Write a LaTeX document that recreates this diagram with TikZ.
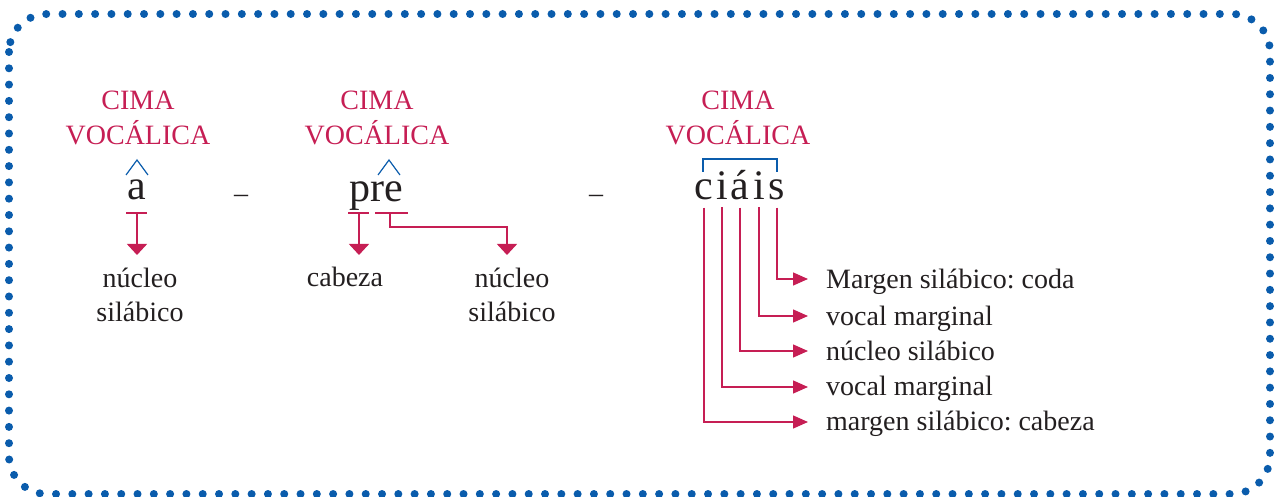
\documentclass[tikz,border=0pt]{standalone}
\usepackage{fontspec}
\setmainfont{Liberation Serif}
\usetikzlibrary{arrows.meta}
\definecolor{crim}{RGB}{198,30,84}
\definecolor{blu}{RGB}{10,92,172}
\definecolor{ink}{RGB}{35,31,32}
\frenchspacing
\begin{document}
\begin{tikzpicture}[x=1pt,y=-1pt,
  lbl/.style={font=\fontsize{28}{35}\selectfont, text=ink, inner sep=0pt},
  cima/.style={font=\fontsize{28}{35}\selectfont, text=crim, inner sep=0pt, anchor=base},
  big/.style={font=\fontsize{42}{42}\selectfont, text=ink, inner sep=0pt, anchor=base},
  conn/.style={crim, line width=1.4pt},
  darr/.style={conn, -{Triangle[width=20pt,length=11pt]}},
  rarr/.style={conn, -{Triangle[width=13pt,length=15pt]}},
  hat/.style={blu, line width=1.2pt},
  border/.style={blu, line width=8pt, line cap=round, dash pattern=on 0pt off 16.3pt, rounded corners=38pt},
]
\useasboundingbox (0,0) rectangle (1278,497);
\draw[border] (9,14) rectangle (1270,494);

% ---------- a ----------
\node[cima] (ca1) at (138,110) {CIMA};
\node[cima] (cb1) at (138,145) {VOCÁLICA};
\node[big] (a) at (137,200) {a};
\draw[hat] (126,175) -- (137,160) -- (148,175);
\coordinate (ta1) at (126,213);
\coordinate (ta2) at (147,213);
\coordinate (ta) at (137,213);
\coordinate (tipa) at (137,255);
\draw[conn] (ta1) -- (ta2);
\draw[darr] (ta) -- (tipa);
\node[lbl, anchor=base] (na1) at (140,288) {núcleo};
\node[lbl, anchor=base] (na2) at (140,322) {silábico};

\node[lbl, anchor=base] (d1) at (241,203) {–};

% ---------- pre ----------
\node[cima] (ca2) at (377,110) {CIMA};
\node[cima] (cb2) at (377,145) {VOCÁLICA};
\node[big, anchor=base west] (pre) at (349,202) {pre};
\draw[hat] (378,175) -- (389,160) -- (400,175);
\coordinate (tp1) at (348,213);
\coordinate (tp2) at (369,213);
\coordinate (tp) at (359,213);
\coordinate (tipp) at (359,255);
\draw[conn] (tp1) -- (tp2);
\draw[darr] (tp) -- (tipp);
\coordinate (tr1) at (375,213);
\coordinate (tr2) at (408,213);
\coordinate (tr) at (390,213);
\coordinate (tipr) at (507,255);
\draw[conn] (tr1) -- (tr2);
\draw[darr] (tr) -- (390,227) -| (tipr);
\node[lbl, anchor=base] (cab) at (345,287) {cabeza};
\node[lbl, anchor=base] (nb1) at (512,288) {núcleo};
\node[lbl, anchor=base] (nb2) at (512,322) {silábico};

\node[lbl, anchor=base] (d2) at (596,203) {–};

% ---------- ciáis ----------
\node[cima] (ca3) at (738,110) {CIMA};
\node[cima] (cb3) at (738,145) {VOCÁLICA};
\draw[blu, line width=1.3pt] (703,172) -- (703,159) -- (777,159) -- (777,172);
\node[big] (c1) at (704,200) {c};
\node[big] (c2) at (722,200) {i};
\node[big] (c3) at (740,200) {á};
\node[big] (c4) at (759,200) {i};
\node[big] (c5) at (777,200) {s};

\coordinate (e5) at (808,279);
\coordinate (e4) at (808,316);
\coordinate (e3) at (808,351);
\coordinate (e2) at (808,387);
\coordinate (e1) at (808,422);
\draw[rarr, shorten <=7pt] (c5.south) |- (e5);
\draw[rarr, shorten <=7pt] (c4.south) |- (e4);
\draw[rarr, shorten <=7pt] (c3.south) |- (e3);
\draw[rarr, shorten <=7pt] (c2.south) |- (e2);
\draw[rarr, shorten <=7pt] (c1.south) |- (e1);
\node[lbl, anchor=base west] (l5) at (826,289) {Margen silábico: coda};
\node[lbl, anchor=base west] (l4) at (826,325) {vocal marginal};
\node[lbl, anchor=base west] (l3) at (826,360) {núcleo silábico};
\node[lbl, anchor=base west] (l2) at (826,395) {vocal marginal};
\node[lbl, anchor=base west] (l1) at (826,430) {margen silábico: cabeza};
\end{tikzpicture}
\end{document}
